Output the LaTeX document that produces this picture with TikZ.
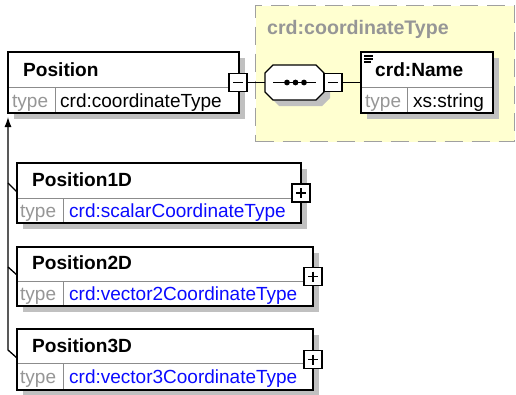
\documentclass[tikz,border=0pt]{standalone}
\usepackage{fontspec}
\setmainfont{Liberation Sans}
\usetikzlibrary{arrows.meta,calc,shadows}
\definecolor{shadowgray}{RGB}{192,192,192}
\definecolor{typegray}{RGB}{150,150,150}
\definecolor{linkblue}{RGB}{10,10,255}
\definecolor{grpfill}{RGB}{255,255,208}
\definecolor{grpline}{RGB}{160,160,160}
\definecolor{divgray}{RGB}{140,140,140}
\tikzset{
  elbox/.style={draw=black, line width=1.3pt, fill=white, inner sep=0pt, outer sep=0pt, anchor=north west,
    drop shadow={shadow xshift=6pt, shadow yshift=-6pt, opacity=1, fill=shadowgray}},
  grpbox/.style={draw=grpline, fill=grpfill, line width=1.3pt, dash pattern=on 18pt off 9pt, inner sep=0pt, anchor=north west},
  grptitle/.style={font=\fontsize{19.6}{22}\selectfont\bfseries, text=typegray, anchor=base west, inner sep=0pt},
  divline/.style={draw=divgray, line width=1pt},
  ename/.style={font=\fontsize{19.1}{22}\selectfont\bfseries, anchor=base west, inner sep=0pt},
  tlabel/.style={font=\fontsize{19}{22}\selectfont, text=typegray, anchor=base west, inner sep=0pt},
  tval/.style={font=\fontsize{19}{22}\selectfont, anchor=base west, inner sep=0pt},
  tlink/.style={font=\fontsize{19}{22}\selectfont, text=linkblue, anchor=base west, inner sep=0pt},
  btn/.style={draw=black, line width=1.3pt, fill=white, minimum size=18pt, inner sep=0pt, outer sep=0pt},
  sign/.style={line width=1.8pt},
  conn/.style={line width=1.3pt},
}
\begin{document}
\begin{tikzpicture}[x=1pt,y=-1pt]
\useasboundingbox (0,0) rectangle (516,394);
% group box
\node[grpbox, minimum width=259pt, minimum height=136pt] (grp) at (255,5) {};
\node[grptitle] (grpt) at (267,34) {crd:coordinateType};

% Position
\node[elbox, minimum width=231pt, minimum height=61pt] (pos) at (8,52) {};
\draw[divline] (9,87) -- (238,87);
\draw[divline] (55,87) -- (55,112);
\node[ename] (posn) at (23,76) {Position};
\node[tlabel] (post) at (12,107.5) {type};
\node[tval] (posv) at (60,107.5) {crd:coordinateType};

% sequence octagon
\node[minimum width=59pt, minimum height=35pt, inner sep=0pt] (seq) at (294.5,82.5) {};
\fill[shadowgray] (271,79) -- (279,71) -- (322,71) -- (330,79) -- (330,98) -- (322,106) -- (279,106) -- (271,98) -- cycle;
\draw[line width=1.3pt, fill=white] (265,73) -- (273,65) -- (316,65) -- (324,73) -- (324,92) -- (316,100) -- (273,100) -- (265,92) -- cycle;
\draw[line width=1.3pt] (273,82.5) -- (316,82.5);
\fill (287,82.5) circle (2.9pt) (295.5,82.5) circle (2.9pt) (304,82.5) circle (2.9pt);

% crd:Name
\node[elbox, minimum width=132pt, minimum height=61pt] (nm) at (361,52) {};
\draw[divline] (362,87) -- (492,87);
\draw[divline] (407,87) -- (407,112);
\draw[line width=1.2pt] (364,56) -- (373,56) (364,59) -- (373,59) (364,62) -- (371,62);
\node[ename] (nmn) at (375,76) {crd:Name};
\node[tlabel] (nmt) at (365,107.5) {type};
\node[tval] (nmv) at (413,107.5) {xs:string};

% Position1D
\node[elbox, minimum width=284pt, minimum height=60pt] (p1) at (17,163) {};
\draw[divline] (18,198) -- (300,198);
\draw[divline] (63,198) -- (63,222);
\node[ename] (p1n) at (32,186.5) {Position1D};
\node[tlabel] (p1t) at (20,217.5) {type};
\node[tlink] (p1v) at (69,217.5) {crd:scalarCoordinateType};

% Position2D
\node[elbox, minimum width=296pt, minimum height=59pt] (p2) at (17,247) {};
\draw[divline] (18,281) -- (312,281);
\draw[divline] (63,281) -- (63,305);
\node[ename] (p2n) at (32,269.5) {Position2D};
\node[tlabel] (p2t) at (20,300.5) {type};
\node[tlink] (p2v) at (69,300.5) {crd:vector2CoordinateType};

% Position3D
\node[elbox, minimum width=296pt, minimum height=61pt] (p3) at (17,329) {};
\draw[divline] (18,363) -- (312,363);
\draw[divline] (63,363) -- (63,389);
\node[ename] (p3n) at (32,352) {Position3D};
\node[tlabel] (p3t) at (20,383.5) {type};
\node[tlink] (p3v) at (69,383.5) {crd:vector3CoordinateType};

% connectors
\node[btn] (posb) at (238,82.5) {};
\node[btn] (seqb) at (333,82.5) {};
\draw[conn] (posb.east) -- (seq.west);
\draw[conn] (seq.east) -- (seqb.west);
\draw[conn] (seqb.east) -- (nm.west);

\coordinate (tip) at (8,117);
\coordinate (j1) at (8,183);
\coordinate (j2) at (8,267);
\coordinate (j3) at (8,350);
\draw[conn, {Latex[length=10pt,width=7pt]}-] (tip) -- (j3) -- ($(p3.north west)+(0,29)$);
\draw[conn] (j1) -- ($(p1.north west)+(0,29)$);
\draw[conn] (j2) -- ($(p2.north west)+(0,28)$);

% buttons
\node[btn] (p1b) at (p1.east) {};
\node[btn] (p2b) at (p2.east) {};
\node[btn] (p3b) at (p3.east) {};
\draw[sign] ($(posb.center)+(-5,0)$) -- ($(posb.center)+(5,0)$);
\draw[sign] ($(seqb.center)+(-5,0)$) -- ($(seqb.center)+(5,0)$);
\foreach \b in {p1b,p2b,p3b}{
  \draw[sign] ($(\b.center)+(-5,0)$) -- ($(\b.center)+(5,0)$);
  \draw[sign] ($(\b.center)+(0,-5)$) -- ($(\b.center)+(0,5)$);
}
\end{tikzpicture}
\end{document}
